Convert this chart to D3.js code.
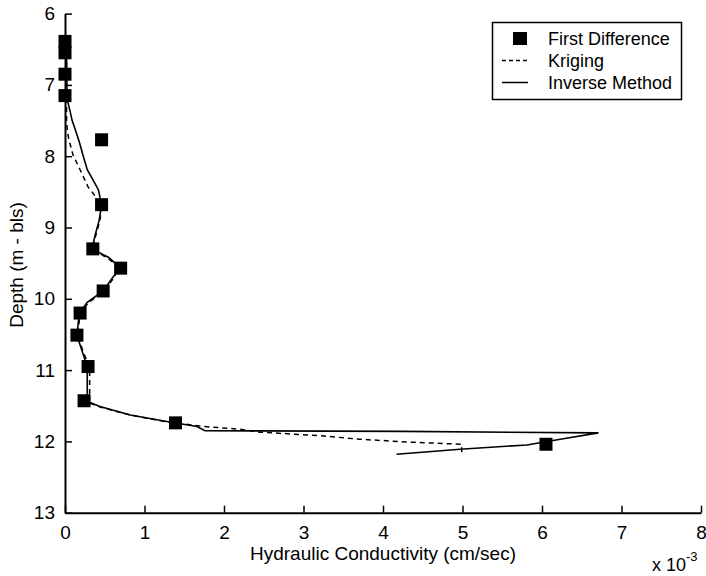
<!DOCTYPE html>
<html>
<head>
<meta charset="utf-8">
<script src="https://cdn.jsdelivr.net/npm/d3@7"></script>
<style>
  html, body { margin: 0; padding: 0; background: #fff; }
  svg { display: block; }
  text { font-family: "Liberation Sans", Arial, Helvetica, sans-serif; fill: #000; }
</style>
</head>
<body>
<script>
// ---- data (x in units of 1e-3 cm/sec, depth in m) ----
const xTicks = [0, 1, 2, 3, 4, 5, 6, 7, 8];
const yTicks = [6, 7, 8, 9, 10, 11, 12, 13];
const seriesNames = ["First Difference", "Kriging", "Inverse Method"];

const firstDiffDepth = [6.39, 6.55, 6.85, 7.15, 7.77, 8.68, 9.30, 9.57, 9.89, 10.20, 10.51, 10.95, 11.43, 11.74, 12.04];
const firstDiffK     = [0.0,  0.0,  0.0,  0.0,  0.46, 0.46, 0.35, 0.70, 0.48, 0.19,  0.15,  0.29,  0.24,  1.39,  6.05];

const krigingDepth = [6.30, 7.30, 7.50, 7.65, 7.77, 7.98, 8.19, 8.43, 8.59, 8.68, 8.90, 9.10, 9.30, 9.42, 9.55, 9.70, 9.89, 10.05, 10.20, 10.51, 10.75, 10.95, 11.40, 11.45, 11.52, 11.63, 11.73, 11.79, 11.83, 11.87, 11.92, 11.97, 12.01, 12.04, 12.17];
const krigingK     = [0.02, 0.02, 0.02, 0.03, 0.05, 0.10, 0.19, 0.29, 0.40, 0.46, 0.44, 0.39, 0.34, 0.52, 0.68, 0.62, 0.49, 0.30,  0.19,  0.16,  0.23,  0.31,  0.31,  0.27,  0.45,  0.82,  1.30,  1.74,  2.20,  2.45,  3.21,  3.71,  4.34,  4.99,  4.99];

const inverseDepth = [6.30, 6.90, 7.21, 7.35, 7.50, 7.63, 7.80, 8.00, 8.19, 8.33, 8.47, 8.68, 8.90, 9.10, 9.30, 9.42, 9.57, 9.70, 9.89, 10.05, 10.20, 10.51, 10.75, 10.95, 11.38, 11.43, 11.51, 11.63, 11.72, 11.79, 11.85, 11.86, 11.88, 11.97, 12.05, 12.11, 12.18];
const inverseK     = [0.02, 0.02, 0.03, 0.06, 0.09, 0.13, 0.18, 0.23, 0.28, 0.35, 0.42, 0.46, 0.43, 0.38, 0.34, 0.55, 0.70, 0.60, 0.48, 0.28,  0.18,  0.15,  0.22,  0.28,  0.28,  0.26,  0.44,  0.82,  1.28,  1.66,  1.76,  4.24,  6.71,  6.23,  5.81,  4.97,  4.17];

const W = 706, H = 576;
const svg = d3.select("body").append("svg").attr("width", W).attr("height", H);

const x = d3.scaleLinear().domain([0, 8]).range([65, 701]);
const y = d3.scaleLinear().domain([6, 13]).range([13.6, 512.7]);

// axes
const xAxis = d3.axisBottom(x).tickValues(xTicks).tickSizeInner(-7).tickSizeOuter(0).tickPadding(13).tickFormat(d3.format("d"));
const yAxis = d3.axisLeft(y).tickValues(yTicks).tickSizeInner(-7).tickSizeOuter(0).tickPadding(10).tickFormat(d3.format("d"));

const gx = svg.append("g").attr("transform", `translate(0,${y(13)})`).call(xAxis);
const gy = svg.append("g").attr("transform", `translate(${x(0)},0)`).call(yAxis);
[gx, gy].forEach(g => {
  g.select(".domain").attr("stroke", "#000").attr("stroke-width", 2);
  g.selectAll(".tick line").attr("stroke", "#000").attr("stroke-width", 1.5);
  g.selectAll(".tick text").attr("font-size", 19).attr("font-family", "Liberation Sans, Arial, sans-serif").attr("fill", "#000");
});
gx.selectAll(".tick text").attr("dy", "0.71em");

// lines
const line = d3.line().x(d => x(d[1])).y(d => y(d[0]));
const krig = krigingDepth.map((d, i) => [d, krigingK[i]]);
const inv = inverseDepth.map((d, i) => [d, inverseK[i]]);

svg.append("path").datum(krig).attr("d", line)
  .attr("fill", "none").attr("stroke", "#000").attr("stroke-width", 1.5)
  .attr("stroke-dasharray", "5,4");
svg.append("path").datum(inv).attr("d", line)
  .attr("fill", "none").attr("stroke", "#000").attr("stroke-width", 1.6);

// squares
const sq = 13;
svg.append("g").selectAll("rect").data(firstDiffDepth.map((d, i) => [d, firstDiffK[i]]))
  .join("rect")
  .attr("x", d => x(d[1]) - sq / 2).attr("y", d => y(d[0]) - sq / 2)
  .attr("width", sq).attr("height", sq).attr("fill", "#000");

// axis labels
svg.append("text").attr("x", 383).attr("y", 560).attr("text-anchor", "middle")
  .attr("font-size", 19).text("Hydraulic Conductivity (cm/sec)");
svg.append("text").attr("transform", "translate(23,265) rotate(-90)").attr("text-anchor", "middle")
  .attr("font-size", 19).text("Depth (m - bls)");
const mult = svg.append("text").attr("x", 652).attr("y", 571).attr("font-size", 18);
mult.append("tspan").text("x 10");
mult.append("tspan").attr("dy", -10).attr("font-size", 13).text("-3");

// legend
const lg = svg.append("g");
lg.append("rect").attr("x", 492.5).attr("y", 22.5).attr("width", 189).attr("height", 77)
  .attr("fill", "#fff").attr("stroke", "#000").attr("stroke-width", 1.5);
const rowY = [38.5, 60.5, 82.5];
lg.append("rect").attr("x", 513).attr("y", rowY[0] - 6.5).attr("width", 14).attr("height", 13).attr("fill", "#000");
lg.append("line").attr("x1", 502).attr("x2", 528).attr("y1", rowY[1]).attr("y2", rowY[1])
  .attr("stroke", "#000").attr("stroke-width", 1.5).attr("stroke-dasharray", "4,3");
lg.append("line").attr("x1", 502).attr("x2", 528).attr("y1", rowY[2]).attr("y2", rowY[2])
  .attr("stroke", "#000").attr("stroke-width", 1.5);
lg.selectAll("text.lt").data(seriesNames).join("text").attr("class", "lt")
  .attr("x", 548).attr("y", (d, i) => rowY[i] + 6.5).attr("font-size", 18).text(d => d);
</script>
</body>
</html>
